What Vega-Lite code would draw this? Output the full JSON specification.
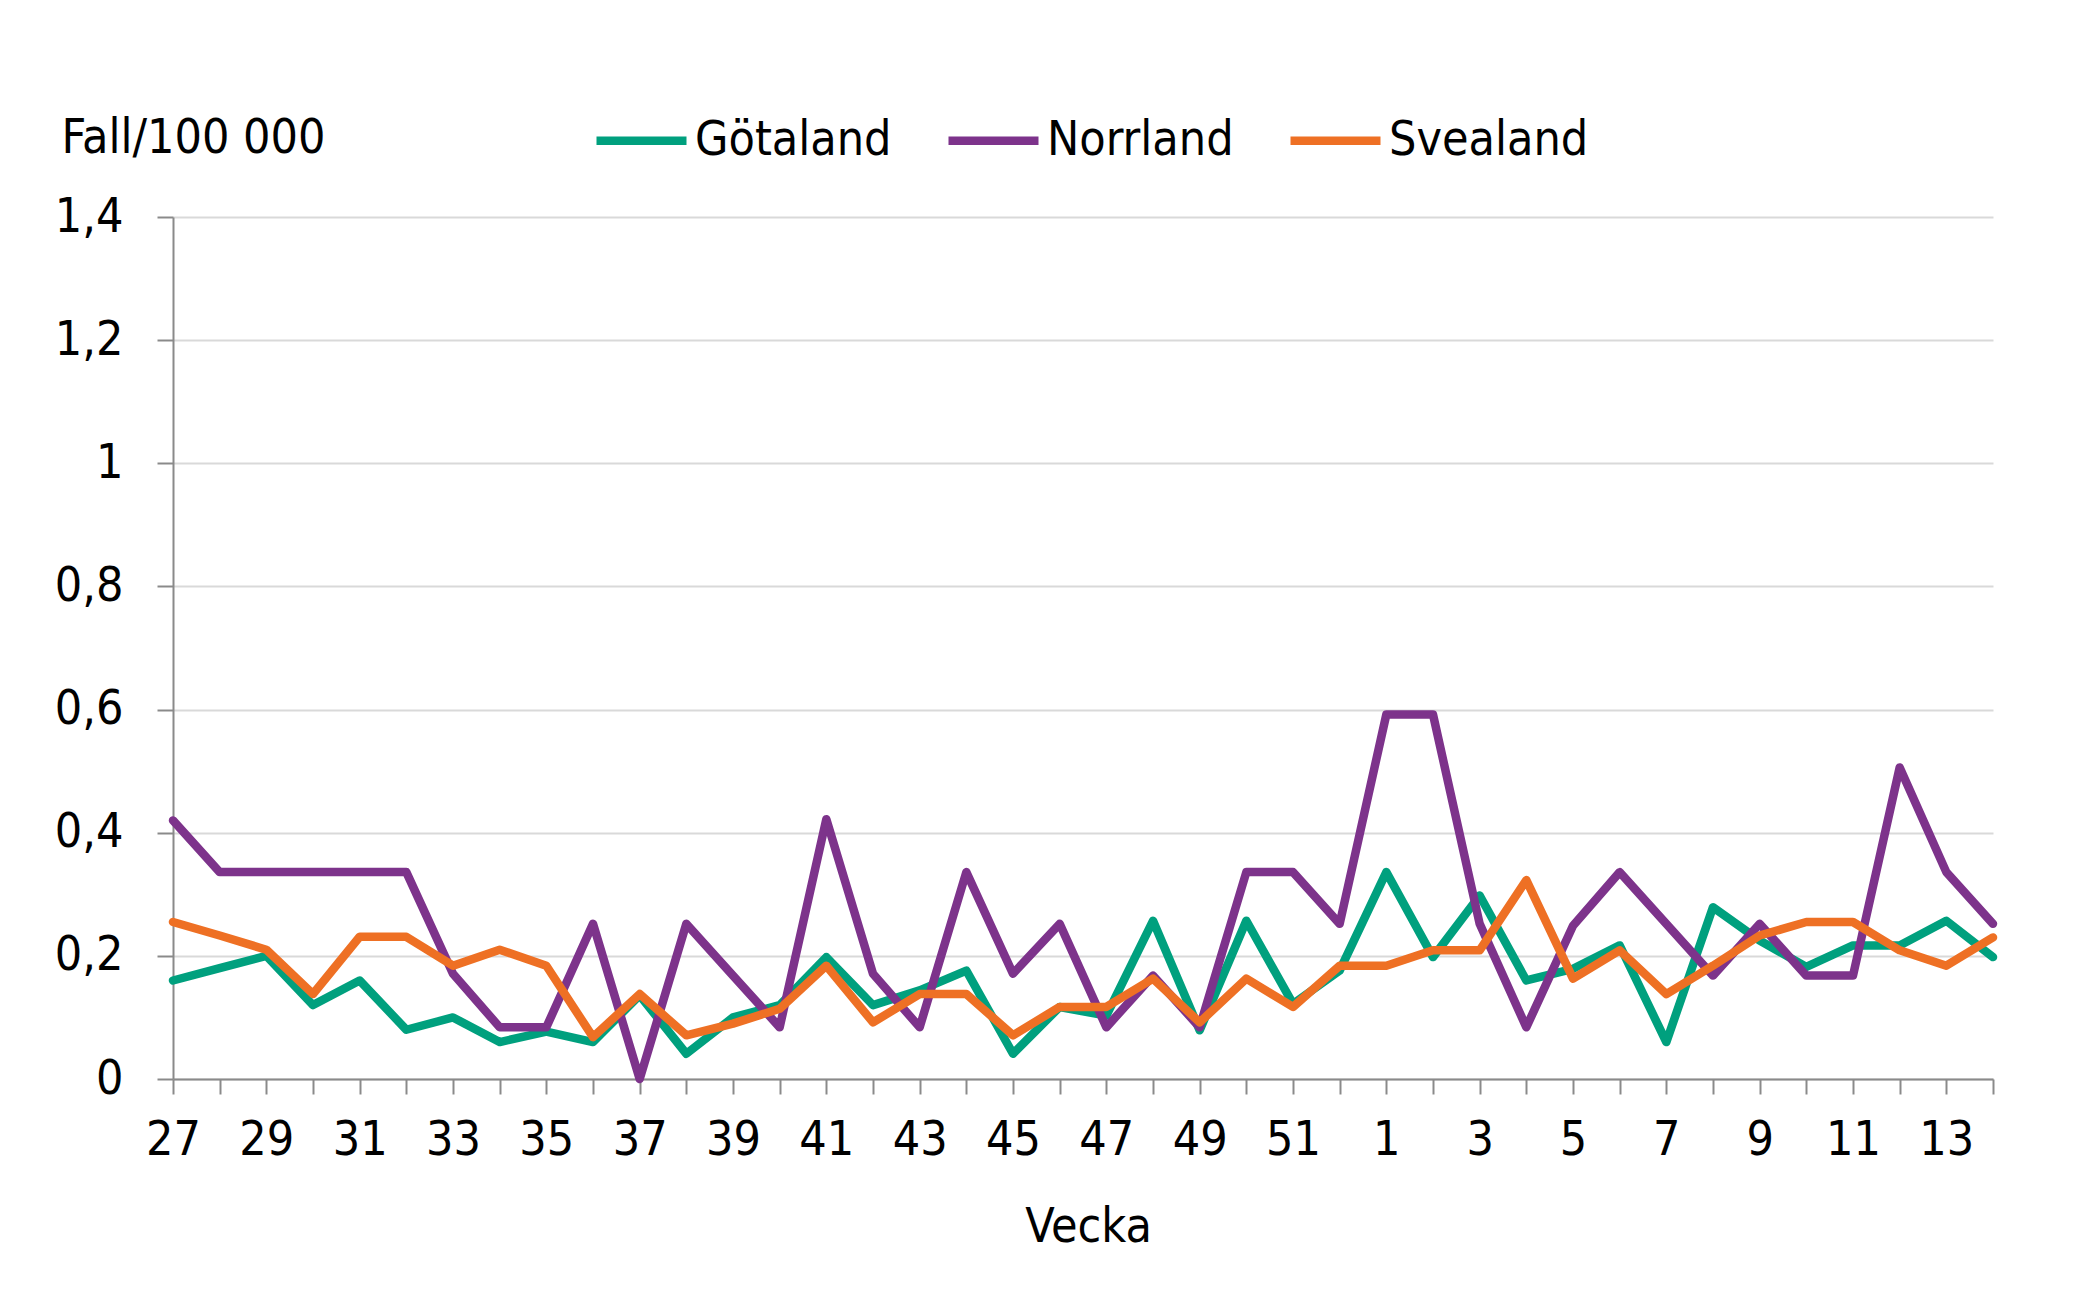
{
  "$schema": "https://vega.github.io/schema/vega-lite/v6.json",
  "width": 1820,
  "height": 862,
  "autosize": {"type": "none"},
  "padding": {"left": 173, "top": 217, "right": 92, "bottom": 224},
  "background": "white",
  "config": {
    "view": {"stroke": null},
    "font": "DejaVu Sans Condensed, DejaVu Sans",
    "axis": {
      "labelFont": "DejaVu Sans Condensed, DejaVu Sans",
      "titleFont": "DejaVu Sans Condensed, DejaVu Sans",
      "labelFontSize": 48,
      "titleFontSize": 48,
      "labelColor": "black",
      "titleColor": "black",
      "titleFontWeight": "normal",
      "domainColor": "#8a8a8a",
      "domainWidth": 2,
      "tickColor": "#8a8a8a",
      "tickWidth": 2,
      "gridColor": "#d9d9d9",
      "gridWidth": 2
    }
  },
  "data": {
    "values": [
      {"Vecka": 27, "Götaland": 0.16, "Norrland": 0.42, "Svealand": 0.255},
      {"Vecka": 28, "Götaland": 0.18, "Norrland": 0.336, "Svealand": 0.233},
      {"Vecka": 29, "Götaland": 0.2, "Norrland": 0.336, "Svealand": 0.21},
      {"Vecka": 30, "Götaland": 0.12, "Norrland": 0.336, "Svealand": 0.138},
      {"Vecka": 31, "Götaland": 0.16, "Norrland": 0.336, "Svealand": 0.231},
      {"Vecka": 32, "Götaland": 0.08, "Norrland": 0.336, "Svealand": 0.231},
      {"Vecka": 33, "Götaland": 0.1, "Norrland": 0.171, "Svealand": 0.184},
      {"Vecka": 34, "Götaland": 0.06, "Norrland": 0.084, "Svealand": 0.21},
      {"Vecka": 35, "Götaland": 0.077, "Norrland": 0.084, "Svealand": 0.184},
      {"Vecka": 36, "Götaland": 0.06, "Norrland": 0.252, "Svealand": 0.068},
      {"Vecka": 37, "Götaland": 0.136, "Norrland": 0, "Svealand": 0.138},
      {"Vecka": 38, "Götaland": 0.041, "Norrland": 0.252, "Svealand": 0.071},
      {"Vecka": 39, "Götaland": 0.1, "Norrland": 0.168, "Svealand": 0.09},
      {"Vecka": 40, "Götaland": 0.12, "Norrland": 0.084, "Svealand": 0.114},
      {"Vecka": 41, "Götaland": 0.198, "Norrland": 0.422, "Svealand": 0.184},
      {"Vecka": 42, "Götaland": 0.12, "Norrland": 0.171, "Svealand": 0.092},
      {"Vecka": 43, "Götaland": 0.144, "Norrland": 0.084, "Svealand": 0.138},
      {"Vecka": 44, "Götaland": 0.176, "Norrland": 0.336, "Svealand": 0.138},
      {"Vecka": 45, "Götaland": 0.041, "Norrland": 0.171, "Svealand": 0.071},
      {"Vecka": 46, "Götaland": 0.117, "Norrland": 0.252, "Svealand": 0.117},
      {"Vecka": 47, "Götaland": 0.103, "Norrland": 0.084, "Svealand": 0.117},
      {"Vecka": 48, "Götaland": 0.257, "Norrland": 0.168, "Svealand": 0.163},
      {"Vecka": 49, "Götaland": 0.079, "Norrland": 0.084, "Svealand": 0.092},
      {"Vecka": 50, "Götaland": 0.257, "Norrland": 0.336, "Svealand": 0.163},
      {"Vecka": 51, "Götaland": 0.122, "Norrland": 0.336, "Svealand": 0.117},
      {"Vecka": 52, "Götaland": 0.176, "Norrland": 0.252, "Svealand": 0.184},
      {"Vecka": 1, "Götaland": 0.336, "Norrland": 0.592, "Svealand": 0.184},
      {"Vecka": 2, "Götaland": 0.198, "Norrland": 0.592, "Svealand": 0.209},
      {"Vecka": 3, "Götaland": 0.298, "Norrland": 0.252, "Svealand": 0.209},
      {"Vecka": 4, "Götaland": 0.16, "Norrland": 0.084, "Svealand": 0.323},
      {"Vecka": 5, "Götaland": 0.179, "Norrland": 0.249, "Svealand": 0.163},
      {"Vecka": 6, "Götaland": 0.217, "Norrland": 0.336, "Svealand": 0.209},
      {"Vecka": 7, "Götaland": 0.06, "Norrland": 0.252, "Svealand": 0.138},
      {"Vecka": 8, "Götaland": 0.279, "Norrland": 0.168, "Svealand": 0.184},
      {"Vecka": 9, "Götaland": 0.225, "Norrland": 0.252, "Svealand": 0.233},
      {"Vecka": 10, "Götaland": 0.182, "Norrland": 0.168, "Svealand": 0.255},
      {"Vecka": 11, "Götaland": 0.217, "Norrland": 0.168, "Svealand": 0.255},
      {"Vecka": 12, "Götaland": 0.217, "Norrland": 0.506, "Svealand": 0.209},
      {"Vecka": 13, "Götaland": 0.257, "Norrland": 0.336, "Svealand": 0.184},
      {"Vecka": 14, "Götaland": 0.198, "Norrland": 0.252, "Svealand": 0.23}
    ]
  },
  "transform": [
    {"fold": ["Götaland", "Norrland", "Svealand"], "as": ["Region", "Fall"]}
  ],
  "mark": {"type": "line", "strokeWidth": 8.5, "strokeJoin": "round", "strokeCap": "round"},
  "encoding": {
    "x": {
      "field": "Vecka",
      "type": "ordinal",
      "sort": null,
      "scale": {"type": "point", "padding": 0},
      "axis": {
        "title": "Vecka",
        "labelAngle": 0,
        "tickSize": 15,
        "labelPadding": 22,
        "labelExpr": "datum.value % 2 == 1 ? datum.label : ''",
        "titleX": 915,
        "titleY": 162,
        "titleBaseline": "alphabetic",
        "grid": false
      }
    },
    "y": {
      "field": "Fall",
      "type": "quantitative",
      "scale": {"domain": [0, 1.4], "nice": false},
      "axis": {
        "title": "Fall/100 000",
        "values": [0, 0.2, 0.4, 0.6, 0.8, 1, 1.2, 1.4],
        "format": "~g",
        "labelExpr": "replace(datum.label, '.', ',')",
        "tickSize": 16,
        "labelPadding": 34,
        "titleAngle": 0,
        "titleAlign": "left",
        "titleBaseline": "alphabetic",
        "titleX": -112,
        "titleY": -65,
        "titleFontSize": 48
      }
    },
    "color": {
      "field": "Region",
      "type": "nominal",
      "scale": {
        "domain": ["Götaland", "Norrland", "Svealand"],
        "range": ["#00a07e", "#7d338b", "#ee7024"]
      },
      "legend": {
        "orient": "none",
        "legendX": 419,
        "legendY": -126,
        "direction": "horizontal",
        "columns": 3,
        "title": null,
        "symbolType": "stroke",
        "symbolSize": 8100,
        "symbolStrokeWidth": 8.5,
        "labelFont": "DejaVu Sans Condensed, DejaVu Sans",
        "labelFontSize": 48,
        "labelColor": "black",
        "labelOffset": 4,
        "columnPadding": 39,
        "labelLimit": 400
      }
    }
  }
}
